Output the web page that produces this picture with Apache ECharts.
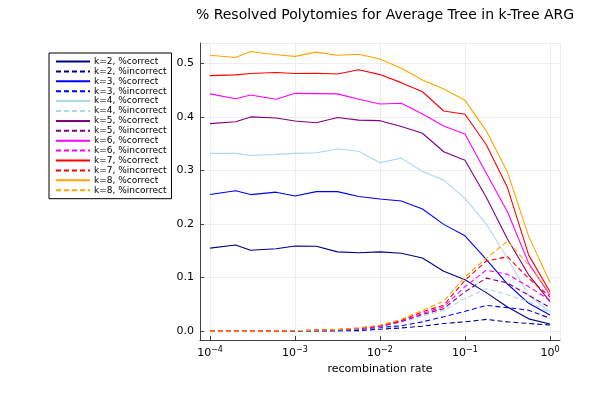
<!DOCTYPE html>
<html>
<head>
<meta charset="utf-8">
<script src="https://cdn.jsdelivr.net/npm/echarts@6/dist/echarts.min.js"></script>
<style>
  html, body { margin: 0; padding: 0; background: #fff; }
  #chart { width: 600px; height: 400px; }
</style>
</head>
<body>
<div id="chart"></div>
<script>
// recombination rates (x)
var rates = [1e-4, 2e-4, 3e-4, 6e-4, 1e-3, 1.78e-3, 3.16e-3, 5.62e-3, 0.01,
             0.0178, 0.0316, 0.0562, 0.1, 0.178, 0.316, 0.562, 1];

// %correct per k
var k2c = [0.155, 0.161, 0.151, 0.154, 0.159, 0.1585, 0.148, 0.1465, 0.148, 0.1455, 0.1365, 0.112, 0.096, 0.072, 0.045, 0.023, 0.0135];
var k3c = [0.255, 0.262, 0.255, 0.2595, 0.2525, 0.2605, 0.2605, 0.2515, 0.2467, 0.243, 0.228, 0.1994, 0.178, 0.134, 0.088, 0.052, 0.030];
var k4c = [0.332, 0.332, 0.328, 0.330, 0.332, 0.333, 0.340, 0.336, 0.3145, 0.323, 0.298, 0.282, 0.248, 0.200, 0.136, 0.067, 0.036];
var k5c = [0.3875, 0.391, 0.400, 0.398, 0.3925, 0.389, 0.399, 0.394, 0.393, 0.382, 0.3695, 0.335, 0.319, 0.250, 0.172, 0.105, 0.055];
var k6c = [0.443, 0.434, 0.441, 0.433, 0.444, 0.4435, 0.443, 0.433, 0.424, 0.4255, 0.4055, 0.383, 0.368, 0.295, 0.223, 0.1265, 0.067];
var k7c = [0.477, 0.4785, 0.481, 0.483, 0.481, 0.4815, 0.480, 0.488, 0.479, 0.464, 0.447, 0.411, 0.405, 0.348, 0.268, 0.142, 0.0735];
var k8c = [0.515, 0.511, 0.522, 0.516, 0.513, 0.521, 0.515, 0.517, 0.508, 0.491, 0.469, 0.452, 0.431, 0.374, 0.297, 0.177, 0.091];

// %incorrect per k
var k2i = [0, 0, 0, 0, 0.0003, 0.0005, 0.0006, 0.001, 0.0037, 0.006, 0.0093, 0.0143, 0.0174, 0.022, 0.0174, 0.0143, 0.0115];
var k3i = [0, 0, 0, 0, 0.0005, 0.001, 0.0015, 0.003, 0.007, 0.010, 0.0174, 0.027, 0.037, 0.048, 0.044, 0.039, 0.024];
var k4i = [0, 0, 0, 0, 0.0008, 0.0013, 0.002, 0.004, 0.008, 0.016, 0.028, 0.039, 0.061, 0.079, 0.068, 0.055, 0.034];
var k5i = [0, 0, 0, 0.0005, 0.001, 0.0015, 0.0025, 0.005, 0.009, 0.018, 0.031, 0.042, 0.0735, 0.099, 0.090, 0.067, 0.044];
var k6i = [0, 0, 0, 0.0005, 0.001, 0.0015, 0.003, 0.005, 0.009, 0.019, 0.033, 0.0455, 0.083, 0.114, 0.106, 0.083, 0.058];
var k7i = [0, 0, 0, 0.0005, 0.001, 0.002, 0.003, 0.006, 0.010, 0.020, 0.036, 0.0486, 0.095, 0.131, 0.139, 0.0985, 0.064];
var k8i = [0, 0, 0, 0.0005, 0.001, 0.002, 0.003, 0.006, 0.011, 0.022, 0.039, 0.056, 0.1015, 0.136, 0.168, 0.123, 0.072];

var ks = [2, 3, 4, 5, 6, 7, 8];
var colors = ['#00008b', '#0000ff', '#add8e6', '#800080', '#ff00ff', '#ff0000', '#ffa500'];
var correct = [k2c, k3c, k4c, k5c, k6c, k7c, k8c];
var incorrect = [k2i, k3i, k4i, k5i, k6i, k7i, k8i];

function pairs(ys) {
    var out = [];
    for (var i = 0; i < rates.length; i++) out.push([rates[i], ys[i]]);
    return out;
}

var series = [];
for (var j = 0; j < ks.length; j++) {
    series.push({
        name: 'k=' + ks[j] + ', %correct', type: 'line', data: pairs(correct[j]),
        symbol: 'none', itemStyle: { color: colors[j] },
        lineStyle: { color: colors[j], width: 1.1, type: 'solid' }
    });
    series.push({
        name: 'k=' + ks[j] + ', %incorrect', type: 'line', data: pairs(incorrect[j]),
        symbol: 'none', itemStyle: { color: colors[j] },
        lineStyle: { color: colors[j], width: 1.1, type: [5, 3] }
    });
}

var myChart = echarts.init(document.getElementById('chart'));
var font = 'DejaVu Sans';
var option = {
    animation: false,
    textStyle: { fontFamily: font },
    title: {
        text: '% Resolved Polytomies for Average Tree in k-Tree ARG',
        left: 380, top: 3, textAlign: 'center',
        textStyle: { fontFamily: font, fontSize: 14, fontWeight: 'normal', color: '#000' }
    },
    legend: {
        orient: 'vertical', left: 49, top: 53,
        padding: [4, 5, 4, 6],
        itemWidth: 34, itemHeight: 6, itemGap: 0.9,
        borderColor: '#000', borderWidth: 1, borderRadius: 0,
        itemStyle: { opacity: 0 },
        textStyle: { fontFamily: font, fontSize: 9, color: '#000', padding: [0, 0, 0, -1] },
        data: series.map(function (s) { return s.name; })
    },
    grid: { left: 200, right: 40, top: 43, bottom: 60, containLabel: false },
    xAxis: {
        type: 'log', logBase: 10,
        min: 7.62e-5, max: 1.312,
        name: 'recombination rate', nameLocation: 'middle', nameGap: 22,
        nameTextStyle: { fontFamily: font, fontSize: 11, color: '#000' },
        axisLine: { onZero: false, lineStyle: { color: '#404040', width: 1 } },
        axisTick: { inside: true, length: 4, lineStyle: { color: '#404040' } },
        splitLine: { show: true, lineStyle: { color: '#e9e9e9', width: 0.8 } },
        minorTick: { show: false },
        axisLabel: {
            showMinLabel: false, showMaxLabel: false, margin: 6,
            formatter: function (v) {
                var e = Math.round(Math.log10(v));
                return '{b|10}{s|' + (e < 0 ? '\u2212' + (-e) : e) + '}';
            },
            rich: {
                b: { fontFamily: font, fontSize: 11, color: '#000' },
                s: { fontFamily: font, fontSize: 8, color: '#000', padding: [0, 0, 7, 0] }
            }
        }
    },
    yAxis: {
        type: 'value',
        min: -0.0165, max: 0.538,
        splitNumber: 5,
        axisLine: { show: true, lineStyle: { color: '#404040', width: 1 } },
        axisTick: { show: true, inside: true, length: 4, lineStyle: { color: '#404040' } },
        splitLine: { show: true, lineStyle: { color: '#e9e9e9', width: 0.8 } },
        axisLabel: {
            showMinLabel: false, showMaxLabel: false, margin: 6,
            fontFamily: font, fontSize: 11, color: '#000',
            formatter: function (v) { return v.toFixed(1); }
        }
    },
    series: series
};
myChart.setOption(option);
</script>
</body>
</html>
